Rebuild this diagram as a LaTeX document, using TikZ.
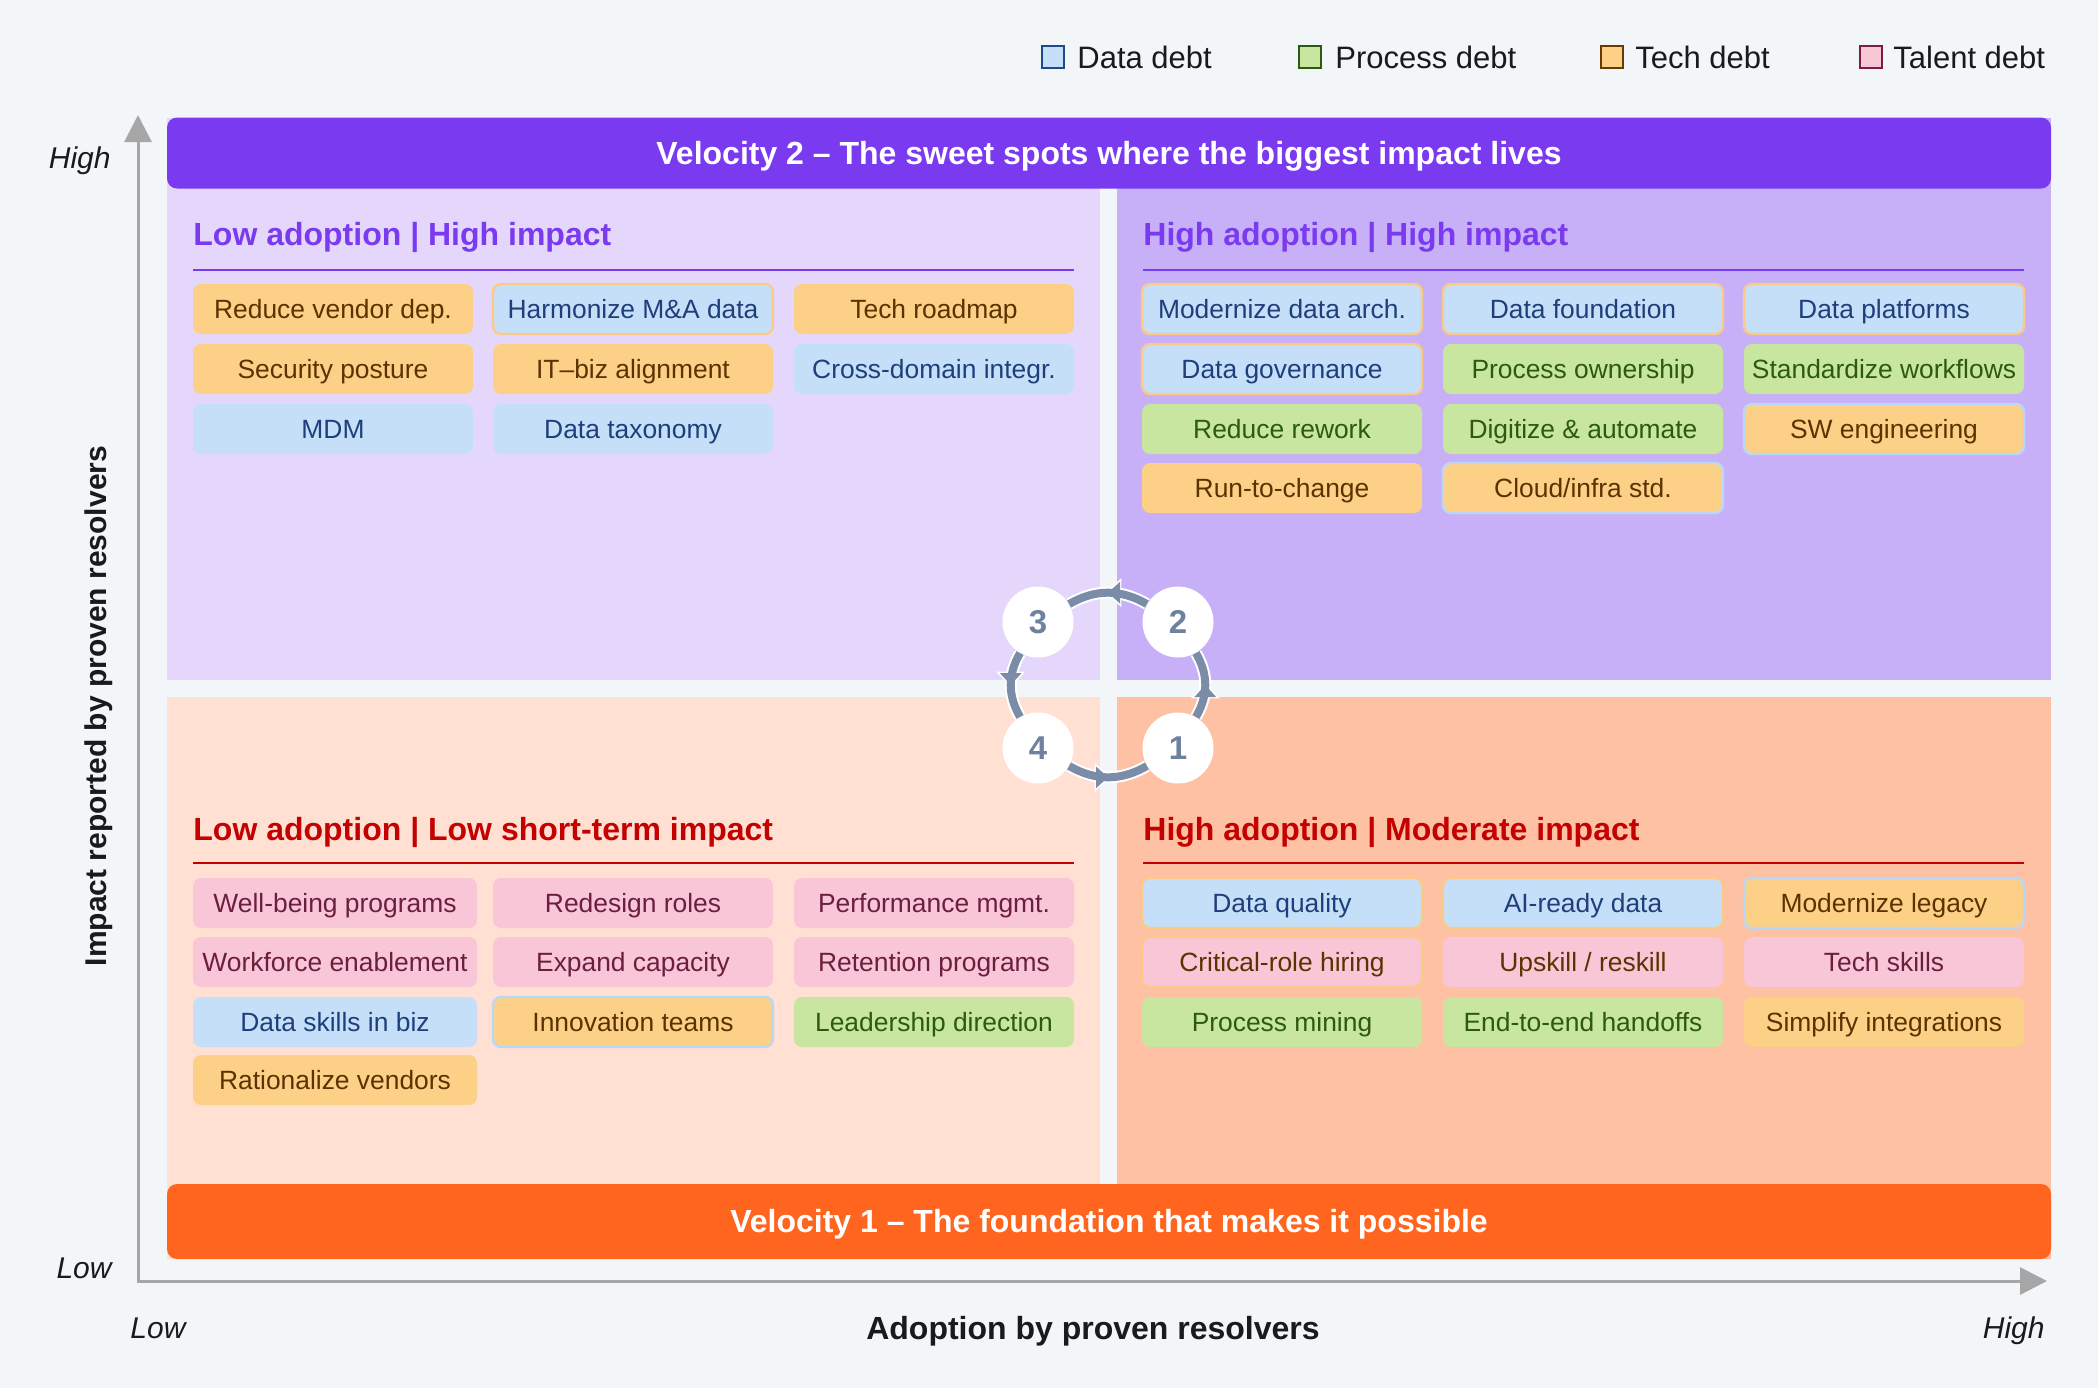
\documentclass[tikz,border=0pt]{standalone}
\usepackage{fontspec}
\setmainfont{Liberation Sans}
\usetikzlibrary{arrows.meta,decorations.markings}

\definecolor{bg}{HTML}{F3F6F9}
\definecolor{qtl}{HTML}{E4D7FB}
\definecolor{qtr}{HTML}{C8B0F8}
\definecolor{qbl}{HTML}{FFE0D3}
\definecolor{qbr}{HTML}{FFC1A3}
\definecolor{vpurple}{HTML}{7A3AF0}
\definecolor{vorange}{HTML}{FF651E}
\definecolor{tred}{HTML}{C40000}
\definecolor{axisgray}{HTML}{A6A6A6}
\definecolor{cyc}{HTML}{7A8CA8}
\definecolor{cycnum}{HTML}{6E819F}
\definecolor{datafill}{HTML}{C6DFF8}
\definecolor{datatext}{HTML}{1E3F7B}
\definecolor{dataedge}{HTML}{B9D8F6}
\definecolor{datadark}{HTML}{1E4A8A}
\definecolor{procfill}{HTML}{C9E6A0}
\definecolor{proctext}{HTML}{2C5A0F}
\definecolor{procdark}{HTML}{2B5B10}
\definecolor{techfill}{HTML}{FDD088}
\definecolor{techtext}{HTML}{5A3300}
\definecolor{techedge}{HTML}{F9CB86}
\definecolor{techdark}{HTML}{6B3A00}
\definecolor{talfill}{HTML}{F8C6D7}
\definecolor{taltext}{HTML}{6B1E3E}
\definecolor{taldark}{HTML}{7A1E40}
\definecolor{labeltext}{HTML}{1A1A1A}

\begin{document}
\begin{tikzpicture}[x=0.5pt,y=-0.5pt,
  chip/.style={text height=9.45pt, text depth=0pt, rounded corners=4pt, minimum width=140pt, minimum height=25pt,
    inner sep=0pt, font=\fontsize{13.2pt}{15pt}\selectfont, line width=1.2pt},
  data/.style={chip, fill=datafill, text=datatext},
  proc/.style={chip, fill=procfill, text=proctext},
  tech/.style={chip, fill=techfill, text=techtext},
  tal/.style={chip, fill=talfill, text=taltext},
  bt/.style={draw=techedge},
  bd/.style={draw=dataedge},
  wide/.style={minimum width=142pt},
  legsq/.style={minimum size=11pt, inner sep=0pt, line width=1pt},
  legtext/.style={text height=11.1pt, text depth=0pt, anchor=west, inner sep=0pt, text=labeltext, font=\fontsize{15.5pt}{18pt}\selectfont},
  qtitle/.style={text height=11.46pt, text depth=0pt, anchor=west, inner sep=0pt, font=\fontsize{16pt}{19pt}\selectfont\bfseries},
  banner/.style={text height=11.46pt, text depth=0pt, rounded corners=5pt, minimum width=942pt, inner sep=0pt, text=white,
    font=\fontsize{16pt}{19pt}\selectfont\bfseries},
  axislbl/.style={text height=11.46pt, text depth=0pt, inner sep=0pt, text=labeltext, font=\fontsize{16pt}{19pt}\selectfont\bfseries},
  endlbl/.style={text height=10.74pt, text depth=0pt, inner sep=0pt, text=labeltext, font=\fontsize{15pt}{18pt}\selectfont\itshape},
  axisline/.style={draw=axisgray, line width=1.5pt},
  numc/.style={circle, fill=white, minimum size=35.5pt, inner sep=0pt, text=cycnum,
    font=\fontsize{16.5pt}{19pt}\selectfont\bfseries},
  cycwhite/.style={draw=white, line width=6pt, postaction={decorate},
    decoration={markings, mark=at position 0.5 with {\arrow[white,xshift=1.3pt]{Triangle[length=8pt,width=14pt]}}}},
  cycgray/.style={draw=cyc, line width=4pt, postaction={decorate},
    decoration={markings, mark=at position 0.5 with {\arrow[cyc]{Triangle[length=6pt,width=10.5pt]}}}},
]
\useasboundingbox (0,0) rectangle (2098,1388);
\fill[bg] (0,0) rectangle (2098,1388);

% quadrants
\fill[qtl] (167,118) rectangle (1100,680);
\fill[qtr] (1117,118) rectangle (2051,680);
\fill[qbl] (167,697) rectangle (1100,1259);
\fill[qbr] (1117,697) rectangle (2051,1259);

% banners
\node[banner, fill=vpurple, minimum height=35.5pt] (v2) at (1109,153)
  {Velocity 2 -- The sweet spots where the biggest impact lives};
\node[banner, fill=vorange, minimum height=37.5pt] (v1) at (1109,1221.5)
  {Velocity 1 -- The foundation that makes it possible};

% axes
\coordinate (origin) at (138,1281);
\coordinate (ytip) at (138,115);
\coordinate (xtip) at (2047,1281);
\draw[axisline, {Triangle[length=13.5pt,width=13.5pt]}-{Triangle[length=13.5pt,width=13.5pt]}]
  (ytip) -- (origin) -- (xtip);
\node[endlbl, anchor=east] (yhigh) at (111,158) {High};
\node[endlbl, anchor=east] (ylow) at (112,1268) {Low};
\node[endlbl, anchor=west] (xlow) at (130,1328) {Low};
\node[endlbl, anchor=east] (xhigh) at (2045,1328) {High};
\node[axislbl] (xlabel) at (1093,1328) {Adoption by proven resolvers};
\node[axislbl, rotate=90, text height=10.74pt, font=\fontsize{15pt}{18pt}\selectfont\bfseries] (ylabel) at (96,706) {Impact reported by proven resolvers};

% legend
\node[legsq, fill=datafill, draw=datadark] (lg1) at (1053,56.5) {};
\node[legtext] (lt1) at (1077,57) {Data debt};
\node[legsq, fill=procfill, draw=procdark] (lg2) at (1310,56.5) {};
\node[legtext] (lt2) at (1335,57) {Process debt};
\node[legsq, fill=techfill, draw=techdark] (lg3) at (1612,56.5) {};
\node[legtext] (lt3) at (1635,57) {Tech debt};
\node[legsq, fill=talfill, draw=taldark] (lg4) at (1871,56.5) {};
\node[legtext] (lt4) at (1893,57) {Talent debt};

% quadrant titles and rules
\node[qtitle, text=vpurple] (ttl) at (193,234) {Low adoption | High impact};
\draw[vpurple, line width=1pt] (193,270) -- (1074,270);
\node[qtitle, text=vpurple] (ttr) at (1143,234) {High adoption | High impact};
\draw[vpurple, line width=1pt] (1143,270) -- (2024,270);
\node[qtitle, text=tred] (tbl) at (193,829) {Low adoption | Low short-term impact};
\draw[tred, line width=1pt] (193,863) -- (1074,863);
\node[qtitle, text=tred] (tbr) at (1143,829) {High adoption | Moderate impact};
\draw[tred, line width=1pt] (1143,863) -- (2024,863);

% top-left chips
\node[tech] (a11) at (333,309) {Reduce vendor dep.};
\node[data, bt] (a12) at (633,309) {Harmonize M\&A data};
\node[tech] (a13) at (934,309) {Tech roadmap};
\node[tech] (a21) at (333,369) {Security posture};
\node[tech] (a22) at (633,369) {IT--biz alignment};
\node[data] (a23) at (934,369) {Cross-domain integr.};
\node[data] (a31) at (333,429) {MDM};
\node[data] (a32) at (633,429) {Data taxonomy};

% top-right chips
\node[data, bt] (b11) at (1282,309) {Modernize data arch.};
\node[data, bt] (b12) at (1583,309) {Data foundation};
\node[data, bt] (b13) at (1884,309) {Data platforms};
\node[data, bt] (b21) at (1282,369) {Data governance};
\node[proc] (b22) at (1583,369) {Process ownership};
\node[proc] (b23) at (1884,369) {Standardize workflows};
\node[proc] (b31) at (1282,429) {Reduce rework};
\node[proc] (b32) at (1583,429) {Digitize \& automate};
\node[tech, bd] (b33) at (1884,429) {SW engineering};
\node[tech] (b41) at (1282,488) {Run-to-change};
\node[tech, bd] (b42) at (1583,488) {Cloud/infra std.};

% bottom-left chips
\node[tal, wide] (c11) at (335,903) {Well-being programs};
\node[tal] (c12) at (633,903) {Redesign roles};
\node[tal] (c13) at (934,903) {Performance mgmt.};
\node[tal, wide] (c21) at (335,962) {Workforce enablement};
\node[tal] (c22) at (633,962) {Expand capacity};
\node[tal] (c23) at (934,962) {Retention programs};
\node[data, wide] (c31) at (335,1022) {Data skills in biz};
\node[tech, bd] (c32) at (633,1022) {Innovation teams};
\node[proc] (c33) at (934,1022) {Leadership direction};
\node[tech, wide] (c41) at (335,1080) {Rationalize vendors};

% bottom-right chips
\node[data, bt] (d11) at (1282,903) {Data quality};
\node[data, bt] (d12) at (1583,903) {AI-ready data};
\node[tech, bd] (d13) at (1884,903) {Modernize legacy};
\node[tal, bt, text=techtext] (d21) at (1282,962) {Critical-role hiring};
\node[tal, text=techtext] (d22) at (1583,962) {Upskill / reskill};
\node[tal] (d23) at (1884,962) {Tech skills};
\node[proc] (d31) at (1282,1022) {Process mining};
\node[proc] (d32) at (1583,1022) {End-to-end handoffs};
\node[tech] (d33) at (1884,1022) {Simplify integrations};

% cycle
\node[numc] (n1) at (1178,748) {1};
\node[numc] (n2) at (1178,622) {2};
\node[numc] (n3) at (1038,622) {3};
\node[numc] (n4) at (1038,748) {4};
\foreach \p/\q in {n1/n2, n2/n3, n3/n4, n4/n1} {
  \draw[cycwhite] (\p) to[bend right=30] (\q);
  \draw[cycgray] (\p) to[bend right=30] (\q);
}
\end{tikzpicture}
\end{document}
